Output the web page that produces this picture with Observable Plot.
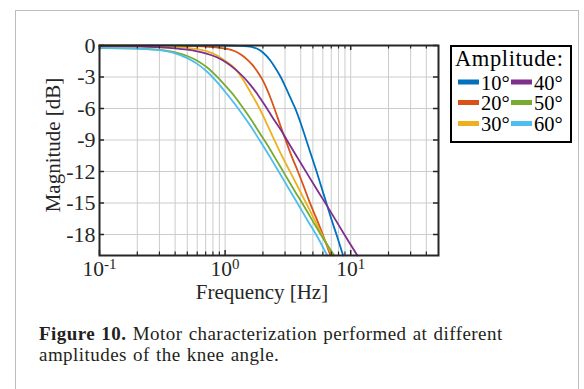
<!DOCTYPE html>
<html>
<head>
<meta charset="utf-8">
<script src="https://cdn.jsdelivr.net/npm/d3@7"></script>
<script src="https://cdn.jsdelivr.net/npm/@observablehq/plot@0.6"></script>
<style>
  html, body { margin: 0; padding: 0; background: #fff; width: 584px; height: 389px; overflow: hidden; }
  #page { position: relative; width: 584px; height: 389px; }
  #border { position: absolute; left: 15px; top: 10px; width: 564px; height: 420px; border: 1.5px solid #bdbdbd; box-sizing: border-box; }
  #chart { position: absolute; left: 0; top: 0; }
  #legend { position: absolute; left: 0; top: 0; }
  #caption { position: absolute; left: 39px; top: 322.5px; width: 530px; font-family: "Liberation Serif", serif; font-size: 19px; line-height: 21px; letter-spacing: 0.45px; word-spacing: 1px; color: #231f20; white-space: nowrap; }
  #caption b { font-weight: bold; }
</style>
</head>
<body>
<div id="page">
  <div id="border"></div>
  <div id="chart"></div>
  <svg id="legend" width="584" height="389"></svg>
  <div id="caption"><b>Figure 10.</b> Motor characterization performed at different<br>amplitudes of the knee angle.</div>
</div>
<script>
// ---- data ----
const amplitudes = ["10°", "20°", "30°", "40°", "50°", "60°"];

const freq10 = [0.1, 0.5, 1.0, 1.3, 1.5, 1.7, 1.85, 2.0, 2.3, 2.5, 2.77, 3.0, 3.3, 3.65, 4.0, 4.4, 4.85, 5.35, 5.85, 6.4, 7.0, 7.75, 8.7];
const mag10  = [0, 0, 0, -0.03, -0.08, -0.2, -0.38, -0.67, -1.45, -2.1, -3.0, -3.85, -4.95, -6.1, -7.4, -8.9, -10.45, -12.0, -13.5, -15.0, -16.5, -18.1, -20.0];

const freq20 = [0.1, 0.3, 0.5, 0.7, 0.85, 1.0, 1.2, 1.37, 1.5, 1.65, 1.8, 2.0, 2.17, 2.3, 2.47, 2.75, 3.03, 3.4, 3.8, 4.25, 4.7, 5.3, 5.9, 6.9];
const mag20  = [0, -0.01, -0.04, -0.1, -0.18, -0.29, -0.55, -0.95, -1.35, -1.85, -2.45, -3.35, -4.25, -5.0, -6.0, -7.6, -9.0, -10.6, -12.0, -13.5, -14.9, -16.4, -17.8, -20.0];

const freq30 = [0.1, 0.2, 0.3, 0.4, 0.5, 0.6, 0.7, 0.85, 1.0, 1.2, 1.4, 1.6, 1.88, 2.1, 2.4, 2.8, 3.35, 4.0, 4.5, 5.3, 6.0, 7.15];
const mag30  = [0, -0.02, -0.06, -0.13, -0.22, -0.35, -0.52, -0.9, -1.45, -2.2, -3.3, -4.5, -6.0, -7.2, -8.7, -10.4, -12.2, -14.0, -15.2, -16.9, -18.2, -20.0];

const freq40 = [0.1, 0.2, 0.3, 0.4, 0.5, 0.6, 0.7, 0.85, 1.0, 1.2, 1.4, 1.6, 1.85, 2.05, 2.4, 2.8, 3.1, 3.8, 4.5, 5.5, 6.5, 7.7, 9.0, 11.3];
const mag40  = [-0.05, -0.1, -0.17, -0.27, -0.4, -0.56, -0.75, -1.1, -1.55, -2.25, -3.0, -3.8, -4.8, -5.6, -6.9, -8.1, -9.0, -10.75, -12.2, -13.9, -15.3, -16.75, -18.1, -20.0];

const freq50 = [0.1, 0.2, 0.3, 0.4, 0.5, 0.6, 0.72, 0.85, 1.0, 1.2, 1.4, 1.6, 1.9, 2.1, 2.5, 3.0, 3.6, 4.3, 5.2, 6.2, 7.4];
const mag50  = [-0.25, -0.3, -0.42, -0.65, -1.0, -1.45, -2.1, -2.9, -3.8, -4.9, -6.0, -7.0, -8.4, -9.2, -10.7, -12.3, -13.9, -15.4, -17.1, -18.6, -20.0];

const freq60 = [0.1, 0.2, 0.3, 0.4, 0.5, 0.6, 0.72, 0.85, 1.0, 1.2, 1.4, 1.6, 1.9, 2.3, 2.7, 3.2, 3.8, 4.5, 5.3, 6.5];
const mag60  = [-0.22, -0.3, -0.45, -0.75, -1.2, -1.75, -2.5, -3.4, -4.4, -5.6, -6.7, -7.7, -9.1, -10.7, -12.1, -13.6, -15.1, -16.6, -18.0, -20.0];

const freqTicksMajor = [0.1, 1, 10];
const freqTicksMinor = [0.2, 0.3, 0.4, 0.5, 0.6, 0.7, 0.8, 0.9, 2, 3, 4, 5, 6, 7, 8, 9, 20, 30, 40];
const freqTickLabels = ["10^-1", "10^0", "10^1"];
const magTicks = [-18, -15, -12, -9, -6, -3, 0];
const magTickLabels = ["-18", "-15", "-12", "-9", "-6", "-3", "0"];

// ---- styles ----
const colors = ["#0072BD", "#D95319", "#EDB120", "#7E2F8E", "#77AC30", "#4DBEEE"];
const serif = "'Liberation Serif', serif";
const ink = "#262626";

const freqs = [freq10, freq20, freq30, freq40, freq50, freq60];
const mags = [mag10, mag20, mag30, mag40, mag50, mag60];
const rows = amplitudes.flatMap((a, i) => freqs[i].map((f, j) => ({amp: a, f, db: mags[i][j]})));

const allFreqTicks = [...freqTicksMajor, ...freqTicksMinor];

const chart = Plot.plot({
  width: 584,
  height: 310,
  marginLeft: 99,
  marginRight: 146,
  marginTop: 45,
  marginBottom: 55,
  x: {type: "log", domain: [0.1, 50]},
  y: {domain: [-20, 0]},
  color: {domain: amplitudes, range: colors},
  style: {fontFamily: serif, background: "transparent", overflow: "visible", color: ink},
  marks: [
    Plot.ruleX(allFreqTicks, {x: d => d, stroke: "#cccccc", strokeWidth: 1}),
    Plot.ruleY(magTicks, {y: d => d, stroke: "#cccccc", strokeWidth: 1}),
    Plot.line(rows, {x: "f", y: "db", z: "amp", stroke: "amp", strokeWidth: 1.8, curve: "monotone-x"}),
    Plot.tickX(freqTicksMinor, {x: d => d, insetTop: 206.5, stroke: ink, strokeWidth: 1.2}),
    Plot.tickX(freqTicksMinor, {x: d => d, insetBottom: 206.5, stroke: ink, strokeWidth: 1.2}),
    Plot.tickX(freqTicksMajor, {x: d => d, insetTop: 205, stroke: ink, strokeWidth: 1.5}),
    Plot.tickX(freqTicksMajor, {x: d => d, insetBottom: 205, stroke: ink, strokeWidth: 1.5}),
    Plot.tickY(magTicks, {y: d => d, insetRight: 334, stroke: ink, strokeWidth: 1.5}),
    Plot.tickY(magTicks, {y: d => d, insetLeft: 334, stroke: ink, strokeWidth: 1.5}),
    Plot.frame({stroke: ink, strokeWidth: 2}),
    Plot.axisY(magTicks, {
      tickSize: 0, tickPadding: 4, fontSize: 22, label: null,
      tickFormat: d => magTickLabels[magTicks.indexOf(d)]
    }),
    Plot.axisX(freqTicksMajor, {
      tickSize: 0, tickPadding: 5, fontSize: 21.5, label: null,
      tickFormat: d => freqTickLabels[freqTicksMajor.indexOf(d)]
    })
  ]
});
document.getElementById("chart").appendChild(chart);

// superscript exponents on the x tick labels
chart.querySelectorAll('g[aria-label="x-axis tick label"] text').forEach(t => {
  const s = t.textContent;
  if (s.includes("^")) {
    const [base, exp] = s.split("^");
    t.textContent = base;
    const sup = document.createElementNS("http://www.w3.org/2000/svg", "tspan");
    sup.setAttribute("dy", "-7");
    sup.setAttribute("font-size", "15");
    sup.textContent = exp;
    t.appendChild(sup);
  }
});

// axis titles
const svgNS = "http://www.w3.org/2000/svg";
const xl = document.createElementNS(svgNS, "text");
xl.setAttribute("x", 262); xl.setAttribute("y", 299);
xl.setAttribute("text-anchor", "middle");
xl.setAttribute("font-size", 21); xl.setAttribute("fill", ink);
xl.setAttribute("font-family", serif);
xl.textContent = "Frequency [Hz]";
chart.appendChild(xl);
const yl = document.createElementNS(svgNS, "text");
yl.setAttribute("transform", "translate(60,145) rotate(-90)");
yl.setAttribute("text-anchor", "middle");
yl.setAttribute("font-size", 21); yl.setAttribute("fill", ink);
yl.setAttribute("font-family", serif);
yl.textContent = "Magnitude [dB]";
chart.appendChild(yl);

// legend
const lg = d3.select("#legend");
lg.append("rect").attr("x", 451).attr("y", 46).attr("width", 120).attr("height", 96)
  .attr("fill", "#fff").attr("stroke", "#000").attr("stroke-width", 2);
lg.append("text").attr("x", 455).attr("y", 66).attr("font-family", serif).attr("font-size", 22.5)
  .attr("letter-spacing", 0.6).attr("fill", "#000").text("Amplitude:");
const colX = [458, 511];
const rowY = [82, 102.5, 123.5];
amplitudes.forEach((a, i) => {
  const c = Math.floor(i / 3), r = i % 3;
  lg.append("rect").attr("x", colX[c]).attr("y", rowY[r] - 2.5).attr("width", 21).attr("height", 5)
    .attr("fill", colors[i]);
  lg.append("text").attr("x", colX[c] + 23).attr("y", rowY[r] + 7.5).attr("font-family", serif)
    .attr("font-size", 20.5).attr("fill", "#000").text(a);
});
</script>
</body>
</html>
